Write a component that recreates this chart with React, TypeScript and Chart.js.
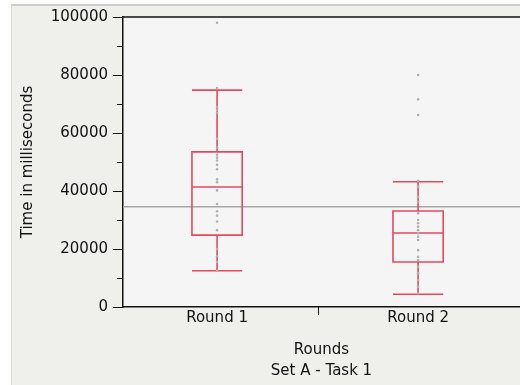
import React, { useEffect, useRef } from 'react';
import { Chart, registerables } from 'chart.js';
Chart.register(...registerables);

const categories = ['Round 1', 'Round 2'];
const q1 = [24800, 15500];
const median = [41400, 25500];
const q3 = [53500, 33100];
const whiskerLow = [12500, 4400];
const whiskerHigh = [74800, 43200];
const round1Points = [98000, 75500, 69000, 68000, 67000, 58000, 55000, 52500, 51500, 50500, 49000, 47500, 44000, 43000, 40200, 35500, 33000, 31500, 29500, 26500, 20000, 17500, 15500, 12500];
const round2Points = [80000, 71600, 66200, 43500, 41500, 38000, 36300, 32300, 30000, 28900, 27700, 26500, 25400, 24200, 23100, 19600, 17300, 16200, 13900, 11600, 9300, 7000, 4700];
const referenceLine = 34600;
const yTicks = [0, 20000, 40000, 60000, 80000, 100000];
const yMinorTicks = [10000, 30000, 50000, 70000, 90000];
const xDivider = 1.5;

const FONT = 'DejaVu Sans';
const BOX_RED = '#e8485e';

const zeroPad = (s: any) => {
  s.paddingTop = 0;
  s.paddingBottom = 0;
  s.paddingLeft = 0;
  s.paddingRight = 0;
};

const decorPlugin = {
  id: 'decor',
  beforeDraw(chart: any) {
    const { ctx, chartArea, width, height } = chart;
    ctx.save();
    ctx.fillStyle = '#ffffff';
    ctx.fillRect(0, 0, width, height);
    ctx.fillStyle = '#efefeb';
    ctx.fillRect(11, 4, width - 11, height - 4);
    ctx.fillStyle = '#cdcdcb';
    ctx.fillRect(11, 4, width - 11, 2);
    ctx.fillStyle = '#dcdcd9';
    ctx.fillRect(11, 4, 1, height - 4);
    ctx.fillStyle = '#f5f5f5';
    ctx.fillRect(chartArea.left, chartArea.top, chartArea.right - chartArea.left, chartArea.bottom - chartArea.top);
    ctx.restore();
  },
  beforeDatasetsDraw(chart: any) {
    const { ctx, chartArea, scales } = chart;
    const x = scales.x;
    const y = scales.y;
    ctx.save();
    ctx.strokeStyle = '#a8a8a8';
    ctx.lineWidth = 1.5;
    ctx.beginPath();
    const ry = y.getPixelForValue(referenceLine);
    ctx.moveTo(chartArea.left, ry);
    ctx.lineTo(chartArea.right, ry);
    ctx.stroke();
    ctx.strokeStyle = BOX_RED;
    ctx.lineWidth = 1.6;
    categories.forEach((_, i) => {
      const cx = x.getPixelForValue(i + 1);
      const xl = x.getPixelForValue(i + 1 - 0.125);
      const xr = x.getPixelForValue(i + 1 + 0.125);
      const yq1 = y.getPixelForValue(q1[i]);
      const yq3 = y.getPixelForValue(q3[i]);
      const ym = y.getPixelForValue(median[i]);
      const ylo = y.getPixelForValue(whiskerLow[i]);
      const yhi = y.getPixelForValue(whiskerHigh[i]);
      ctx.beginPath();
      ctx.rect(xl, yq3, xr - xl, yq1 - yq3);
      ctx.moveTo(xl, ym); ctx.lineTo(xr, ym);
      ctx.moveTo(cx, yq3); ctx.lineTo(cx, yhi);
      ctx.moveTo(xl, yhi); ctx.lineTo(xr, yhi);
      ctx.moveTo(cx, yq1); ctx.lineTo(cx, ylo);
      ctx.moveTo(xl, ylo); ctx.lineTo(xr, ylo);
      ctx.stroke();
    });
    ctx.restore();
  },
  afterDraw(chart: any) {
    const { ctx, chartArea, scales } = chart;
    const x = scales.x;
    const y = scales.y;
    ctx.save();
    ctx.strokeStyle = '#111';
    ctx.lineWidth = 1.5;
    ctx.beginPath();
    ctx.moveTo(chartArea.left, chartArea.top);
    ctx.lineTo(chartArea.right, chartArea.top);
    ctx.stroke();
    ctx.lineWidth = 1;
    ctx.beginPath();
    yTicks.forEach((v) => {
      const py = Math.round(y.getPixelForValue(v)) + 0.5;
      ctx.moveTo(chartArea.left - 10, py);
      ctx.lineTo(chartArea.left, py);
    });
    yMinorTicks.forEach((v) => {
      const py = Math.round(y.getPixelForValue(v)) + 0.5;
      ctx.moveTo(chartArea.left - 6, py);
      ctx.lineTo(chartArea.left, py);
    });
    const px = Math.round(x.getPixelForValue(xDivider)) + 0.5;
    ctx.moveTo(px, chartArea.bottom);
    ctx.lineTo(px, chartArea.bottom + 8);
    ctx.stroke();
    ctx.restore();
  },
};

export default function App() {
  const ref = useRef<HTMLCanvasElement>(null);
  useEffect(() => {
    if (!ref.current) return;
    const chart = new Chart(ref.current, {
      type: 'scatter',
      data: {
        datasets: [
          {
            label: categories[0],
            data: round1Points.map((v) => ({ x: 1, y: v })),
            pointRadius: 1.3,
            pointBackgroundColor: '#b0b0b0',
            pointBorderWidth: 0,
          },
          {
            label: categories[1],
            data: round2Points.map((v) => ({ x: 2, y: v })),
            pointRadius: 1.3,
            pointBackgroundColor: '#b0b0b0',
            pointBorderWidth: 0,
          },
        ],
      },
      options: {
        responsive: false,
        animation: false,
        layout: { autoPadding: false, padding: { left: 11, top: 17, right: 0, bottom: 0 } },
        plugins: { legend: { display: false }, tooltip: { enabled: false } },
        scales: {
          x: {
            type: 'linear',
            min: 0.532,
            max: 2.507,
            afterBuildTicks: (s: any) => { s.ticks = [{ value: 1 }, { value: 2 }]; },
            afterFit: (s: any) => { s.height = 78; zeroPad(s); },
            grid: { display: false, drawTicks: false },
            border: { display: true, color: '#111', width: 1.5 },
            ticks: {
              padding: 2,
              color: '#111',
              font: { family: FONT, size: 15 },
              callback: (v: any) => categories[Math.round(v) - 1],
              maxRotation: 0,
            },
            title: {
              display: true,
              text: ['Rounds', 'Set A - Task 1'],
              color: '#111',
              font: { family: FONT, size: 15, lineHeight: 1.4 },
              padding: { top: 0, bottom: 3 },
            },
          },
          y: {
            min: 0,
            max: 100000,
            afterBuildTicks: (s: any) => { s.ticks = yTicks.map((v) => ({ value: v })); },
            afterFit: (s: any) => { s.width = 112; zeroPad(s); },
            grid: { display: false, drawTicks: false },
            border: { display: true, color: '#111', width: 1.5 },
            ticks: {
              padding: 15,
              color: '#111',
              font: { family: FONT, size: 15 },
              callback: (v: any) => String(v),
            },
            title: {
              display: true,
              text: 'Time in milliseconds',
              color: '#111',
              font: { family: FONT, size: 15 },
              padding: { top: 8, bottom: 0 },
            },
          },
        },
      },
      plugins: [decorPlugin],
    } as any);
    return () => chart.destroy();
  }, []);
  return (
    <canvas
      ref={ref}
      width={520}
      height={385}
      style={{ position: 'absolute', left: 0, top: 0, width: 520, height: 385 }}
    />
  );
}
